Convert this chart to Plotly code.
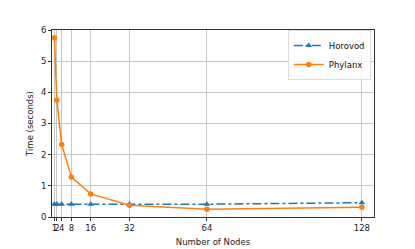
import plotly.graph_objects as go

nodes = [1, 2, 4, 8, 16, 32, 64, 128]
horovod = [0.41, 0.41, 0.41, 0.41, 0.41, 0.42, 0.41, 0.46]
phylanx = [5.75, 3.75, 2.33, 1.28, 0.74, 0.38, 0.25, 0.31]
x_ticks = [1, 2, 4, 8, 16, 32, 64, 128]
y_ticks = [0, 1, 2, 3, 4, 5, 6]

fig = go.Figure()
fig.add_trace(go.Scatter(x=nodes, y=horovod, name="Horovod", mode="lines+markers",
                         line=dict(color="#1f77b4", width=1.5, dash="dashdot"),
                         marker=dict(symbol="triangle-up", size=6, color="#1f77b4")))
fig.add_trace(go.Scatter(x=nodes, y=phylanx, name="Phylanx", mode="lines+markers",
                         line=dict(color="#ff7f0e", width=1.5),
                         marker=dict(symbol="circle", size=5.5, color="#ff7f0e")))

axis_common = dict(showline=True, linecolor="#333333", linewidth=0.8, mirror=True,
                   showgrid=True, gridcolor="#c8c8c8", gridwidth=0.8,
                   ticks="outside", ticklen=3, tickcolor="#333333", tickwidth=0.8,
                   zeroline=False, tickfont=dict(size=8.5, color="#222222"),
                   title_font=dict(size=8.5, color="#222222"), tickangle=0,
                   automargin=False)

fig.update_layout(
    width=407, height=241,
    margin=dict(l=44, r=41, t=22, b=32),
    paper_bgcolor="white", plot_bgcolor="white",
    font=dict(family="DejaVu Sans", size=8.5, color="#222222"),
    xaxis=dict(range=[0, 133], tickvals=x_ticks, ticktext=[str(v) for v in x_ticks],
               title=dict(text="Number of Nodes", standoff=6), **axis_common),
    yaxis=dict(range=[0, 6], tickvals=y_ticks,
               title=dict(text="Time (seconds)", standoff=6), **axis_common),
    legend=dict(x=0.99, y=1.0, xanchor="right", yanchor="top",
                bgcolor="rgba(255,255,255,0.8)", bordercolor="#dddddd", borderwidth=1,
                font=dict(size=8.5, color="#111111"), tracegroupgap=0, itemwidth=30),
    showlegend=True,
)

fig.write_html("out.html")
